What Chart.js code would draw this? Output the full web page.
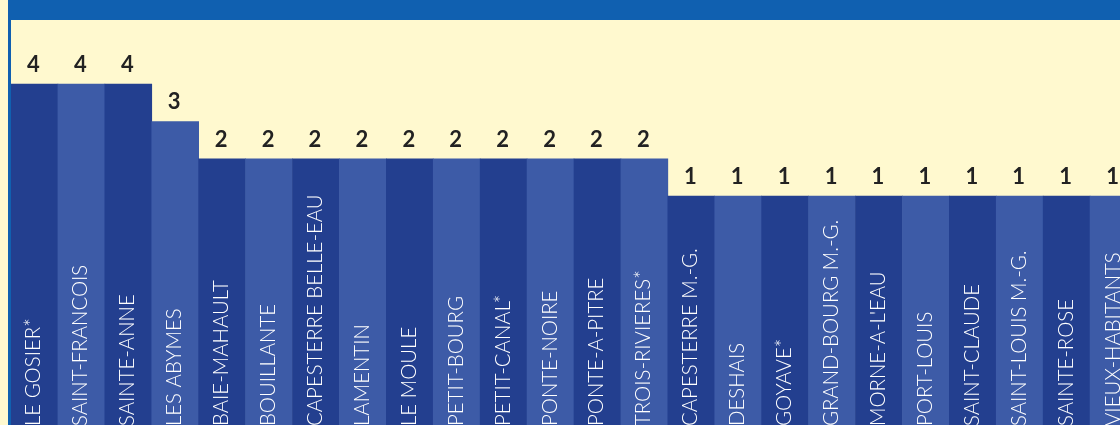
<!DOCTYPE html>
<html>
<head>
<meta charset="utf-8">
<script src="https://cdn.jsdelivr.net/npm/chart.js@4/dist/chart.umd.min.js"></script>
<style>
  html, body { margin: 0; padding: 0; background: #fff9cf; overflow: hidden; }
  #wrap { width: 1120px; height: 425px; overflow: hidden; position: relative; }
  #box { width: 1140px; height: 425px; }
</style>
</head>
<body>
<div id="wrap"><div id="box"><canvas id="chart"></canvas></div></div>
<script>
const communes = [
  'LE GOSIER*', 'SAINT-FRANCOIS', 'SAINTE-ANNE', 'LES ABYMES', 'BAIE-MAHAULT',
  'BOUILLANTE', 'CAPESTERRE BELLE-EAU', 'LAMENTIN', 'LE MOULE', 'PETIT-BOURG',
  'PETIT-CANAL*', 'PONTE-NOIRE', 'PONTE-A-PITRE', 'TROIS-RIVIERES*', 'CAPESTERRE M.-G.',
  'DESHAIS', 'GOYAVE*', 'GRAND-BOURG M.-G.', "MORNE-A-L'EAU", 'PORT-LOUIS',
  'SAINT-CLAUDE', 'SAINT-LOUIS M.-G.', 'SAINTE-ROSE', 'VIEUX-HABITANTS'
];
const counts = [4, 4, 4, 3, 2, 2, 2, 2, 2, 2, 2, 2, 2, 2, 1, 1, 1, 1, 1, 1, 1, 1, 1, 1];

const dark = '#233f8f';
const light = '#3d5ba7';

// background, top band and left rule
const frame = {
  id: 'frame',
  beforeDraw(chart) {
    const c = chart.ctx;
    c.save();
    c.fillStyle = '#fff9cf';
    c.fillRect(0, 0, chart.width, chart.height);
    c.restore();
  },
  afterDraw(chart) {
    const c = chart.ctx;
    c.save();
    c.fillStyle = '#1060b0';
    c.fillRect(8, 0, chart.width, 20);
    c.fillRect(8, 0, 3, chart.height);
    c.restore();
  }
};

// values above bars, names inside bars
const barText = {
  id: 'barText',
  afterDatasetsDraw(chart) {
    const c = chart.ctx;
    const meta = chart.getDatasetMeta(0);
    c.save();
    meta.data.forEach((bar, i) => {
      c.fillStyle = '#222';
      c.font = 'bold 22px Lato';
      c.textAlign = 'center';
      c.textBaseline = 'alphabetic';
      c.fillText(String(counts[i]), bar.x - 1, bar.y - 12);

      c.save();
      c.translate(bar.x + 6, 426);
      c.rotate(-Math.PI / 2);
      c.scale(0.97, 1);
      c.fillStyle = '#ffffff';
      c.font = '300 21px Lato';
      c.textAlign = 'left';
      c.fillText(communes[i], 0, 0);
      c.restore();
    });
    c.restore();
  }
};

new Chart(document.getElementById('chart'), {
  type: 'bar',
  data: {
    labels: communes,
    datasets: [{
      data: counts,
      base: -6,
      backgroundColor: counts.map((v, i) => i % 2 === 0 ? dark : light),
      borderWidth: 0,
      barPercentage: 1,
      categoryPercentage: 1
    }]
  },
  options: {
    responsive: true,
    maintainAspectRatio: false,
    animation: false,
    layout: { padding: { left: 11, right: 3, top: 0, bottom: 0 } },
    plugins: { legend: { display: false }, tooltip: { enabled: false } },
    scales: {
      x: { display: false },
      y: { display: false, min: -5.137, max: 6.257 }
    }
  },
  plugins: [frame, barText]
});
</script>
</body>
</html>
